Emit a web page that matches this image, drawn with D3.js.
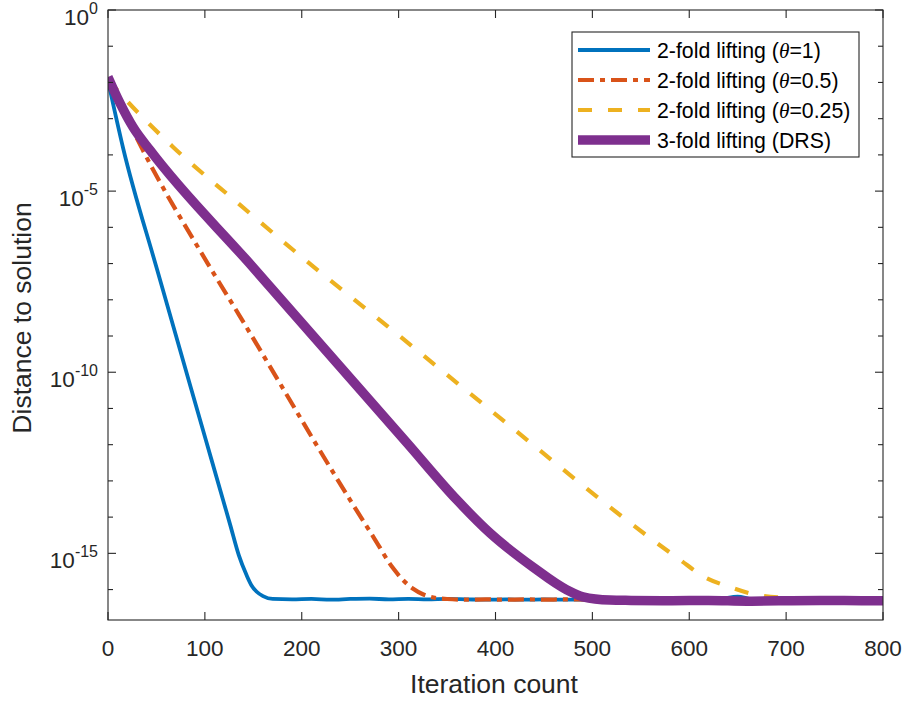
<!DOCTYPE html>
<html>
<head>
<meta charset="utf-8">
<script src="https://cdn.jsdelivr.net/npm/d3@7"></script>
<style>
  body { margin: 0; background: #fff; }
  svg { display: block; font-family: "Liberation Sans", Arial, Helvetica, sans-serif; }
</style>
</head>
<body>
<svg id="chart" width="904" height="702"></svg>
<script>
// ---------- data ----------
const xTicks = [0, 100, 200, 300, 400, 500, 600, 700, 800];
const yMajorTicks = [1e0, 1e-5, 1e-10, 1e-15];
const yMajorExps = ["0", "-5", "-10", "-15"];
const yMinorTicks = [1e-1,1e-2,1e-3,1e-4,1e-6,1e-7,1e-8,1e-9,1e-11,1e-12,1e-13,1e-14,1e-16];

const blueIter = [0, 15.5, 50.6, 101, 119, 126, 135, 143, 148, 153.5, 160, 170, 190, 210, 230, 250, 270, 290, 310, 330, 350, 370, 390, 410, 430, 450, 480, 520, 560, 600, 630, 650, 665, 690, 720, 750, 780, 800];
const blueVal  = [1.12e-2, 1.58e-4, 6.92e-8, 1.35e-12, 2.82e-14, 6.31e-15, 8.91e-16, 2.51e-16, 1.32e-16, 8.71e-17, 6.61e-17, 5.50e-17, 5.37e-17, 5.50e-17, 5.25e-17, 5.50e-17, 5.62e-17, 5.37e-17, 5.50e-17, 5.37e-17, 5.50e-17, 5.37e-17, 5.25e-17, 5.37e-17, 5.25e-17, 5.37e-17, 5.25e-17, 5.37e-17, 5.25e-17, 5.37e-17, 5.50e-17, 6.40e-17, 5.40e-17, 5.25e-17, 5.37e-17, 5.25e-17, 5.37e-17, 5.25e-17];

const orangeIter = [0, 36, 103, 136, 250, 274, 294, 305, 315, 325, 336, 350, 370, 390, 410, 430, 450, 470, 500, 550, 600, 650, 700, 750, 800];
const orangeVal  = [1.32e-2, 1.35e-4, 1.00e-7, 3.55e-9, 2.95e-14, 2.82e-15, 3.98e-16, 1.78e-16, 1.05e-16, 7.41e-17, 6.03e-17, 5.50e-17, 5.25e-17, 5.37e-17, 5.25e-17, 5.37e-17, 5.25e-17, 5.37e-17, 5.25e-17, 5.25e-17, 5.25e-17, 5.25e-17, 5.25e-17, 5.25e-17, 5.25e-17];

const yellowIter = [0, 20.6, 67.1, 136.3, 201.3, 288, 404.6, 542, 566.7, 590.5, 614.2, 642, 670, 704, 745, 800];
const yellowVal  = [1.17e-2, 2.88e-3, 1.66e-4, 4.17e-6, 1.41e-7, 1.91e-9, 5.50e-12, 6.03e-15, 1.91e-15, 6.61e-16, 2.34e-16, 1.17e-16, 7.08e-17, 5.89e-17, 5.50e-17, 5.50e-17];

const purpleIter = [0, 12.4, 25.8, 43.4, 148.6, 308.6, 360.3, 394.3, 438.7, 473.8, 490.3, 518, 540, 580, 620, 660, 700, 740, 780, 800];
const purpleVal  = [1.41e-2, 2.69e-3, 5.89e-4, 1.35e-4, 8.51e-8, 1.12e-12, 2.95e-14, 3.63e-15, 4.17e-16, 9.77e-17, 6.31e-17, 5.13e-17, 5.01e-17, 4.90e-17, 5.01e-17, 4.79e-17, 4.90e-17, 5.01e-17, 4.90e-17, 4.90e-17];

const seriesNames = ["2-fold lifting (", "2-fold lifting (", "2-fold lifting (", "3-fold lifting (DRS)"];
const seriesTheta = ["=1)", "=0.5)", "=0.25)", null];

// ---------- layout ----------
const svg = d3.select("#chart");
const L = 108, R = 883, T = 10, B = 620;
const axisColor = "#262626";
const x = d3.scaleLinear().domain([0, 800]).range([L, R]);
const y = d3.scaleLog().domain([1.445e-17, 1]).range([B, T]);

svg.append("defs").append("clipPath").attr("id", "clip")
  .append("rect").attr("x", L).attr("y", T).attr("width", R - L).attr("height", B - T);

svg.append("rect").attr("x", L).attr("y", T).attr("width", R - L).attr("height", B - T).attr("fill", "#fff");

const series = [
  { it: blueIter,   v: blueVal,   color: "#0072BD", w: 3.8, dash: null },
  { it: orangeIter, v: orangeVal, color: "#D95319", w: 4.2, dash: "16,6,5,6" },
  { it: yellowIter, v: yellowVal, color: "#EDB120", w: 4.2, dash: "14,16" },
  { it: purpleIter, v: purpleVal, color: "#7E2F8E", w: 9.5, dash: null }
];

const line = d3.line().x(d => x(d[0])).y(d => y(d[1])).curve(d3.curveMonotoneX);
const g = svg.append("g").attr("clip-path", "url(#clip)");
series.forEach(s => {
  g.append("path")
    .datum(s.it.map((t, i) => [t, s.v[i]]))
    .attr("d", line)
    .attr("fill", "none")
    .attr("stroke", s.color)
    .attr("stroke-width", s.w)
    .attr("stroke-dasharray", s.dash)
    .attr("stroke-linejoin", "round");
});

// ---------- axes ----------
const ax = svg.append("g").attr("stroke", axisColor).attr("stroke-width", 1.1);
ax.append("rect").attr("x", L).attr("y", T).attr("width", R - L).attr("height", B - T).attr("fill", "none");
xTicks.forEach(t => {
  ax.append("line").attr("x1", x(t)).attr("x2", x(t)).attr("y1", B).attr("y2", B - 8);
  ax.append("line").attr("x1", x(t)).attr("x2", x(t)).attr("y1", T).attr("y2", T + 8);
});
yMajorTicks.forEach(t => {
  ax.append("line").attr("x1", L).attr("x2", L + 8).attr("y1", y(t)).attr("y2", y(t));
  ax.append("line").attr("x1", R).attr("x2", R - 8).attr("y1", y(t)).attr("y2", y(t));
});
yMinorTicks.forEach(t => {
  ax.append("line").attr("x1", L).attr("x2", L + 5).attr("y1", y(t)).attr("y2", y(t));
  ax.append("line").attr("x1", R).attr("x2", R - 5).attr("y1", y(t)).attr("y2", y(t));
});

const lab = svg.append("g").attr("fill", axisColor);
xTicks.forEach(t => {
  lab.append("text").attr("x", x(t)).attr("y", 656).attr("text-anchor", "middle")
    .attr("font-size", 22.5).text(t);
});
yMajorTicks.forEach((t, i) => {
  const tx = lab.append("text").attr("x", 98).attr("y", y(t) + 14.5).attr("text-anchor", "end").attr("font-size", 22.5);
  tx.append("tspan").text("10");
  tx.append("tspan").attr("dy", -10.5).attr("font-size", 16).text(yMajorExps[i]);
});

lab.append("text").attr("x", 494).attr("y", 693).attr("text-anchor", "middle")
  .attr("font-size", 26.5).text("Iteration count");
lab.append("text").attr("transform", "translate(31," + ((T + B) / 2 + 3) + ") rotate(-90)")
  .attr("text-anchor", "middle").attr("font-size", 26.5).text("Distance to solution");

// ---------- legend ----------
const lg = svg.append("g");
lg.append("rect").attr("x", 572).attr("y", 32).attr("width", 287).attr("height", 125)
  .attr("fill", "#fff").attr("stroke", axisColor).attr("stroke-width", 1.1);
series.forEach((s, i) => {
  const yy = 50 + i * 30;
  lg.append("line").attr("x1", 578).attr("x2", 650).attr("y1", yy).attr("y2", yy)
    .attr("stroke", s.color).attr("stroke-width", s.w).attr("stroke-dasharray", s.dash);
  const tx = lg.append("text").attr("x", 657).attr("y", yy + 7.5).attr("font-size", 21.3).attr("fill", "#000");
  tx.append("tspan").text(seriesNames[i]);
  if (seriesTheta[i] !== null) {
    tx.append("tspan").attr("font-family", "'Liberation Serif', 'DejaVu Serif', serif").attr("font-style", "italic").text("θ");
    tx.append("tspan").text(seriesTheta[i]);
  }
});
</script>
</body>
</html>
